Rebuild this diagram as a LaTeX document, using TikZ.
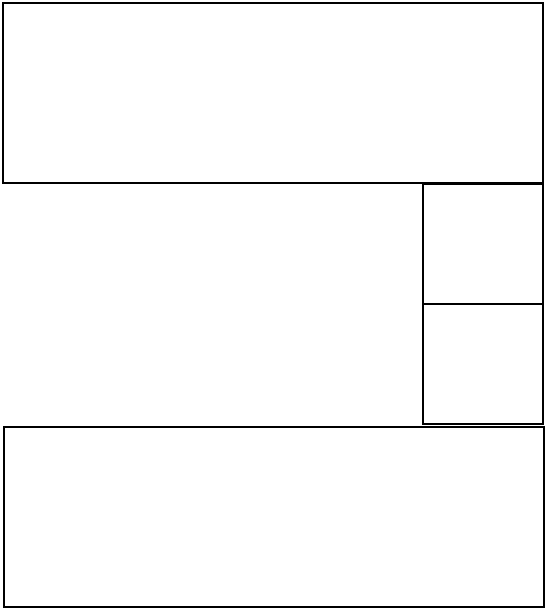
\documentclass[tikz,border=0pt]{standalone}
\begin{document}
\begin{tikzpicture}[x=1pt,y=-1pt,
  box/.style={draw=black,line width=2.5pt,fill=white,inner sep=0pt,outer sep=0pt,anchor=north west}]
\useasboundingbox (0,0) rectangle (546,610);
\node[box,minimum width=540pt,minimum height=180pt] (top) at (3,3) {};
\node[box,minimum width=120pt,minimum height=120pt] (s1) at (423,184) {};
\node[box,minimum width=120pt,minimum height=120pt] (s2) at (423,304) {};
\node[box,minimum width=540pt,minimum height=180pt] (bot) at (4,427) {};
\end{tikzpicture}
\end{document}
